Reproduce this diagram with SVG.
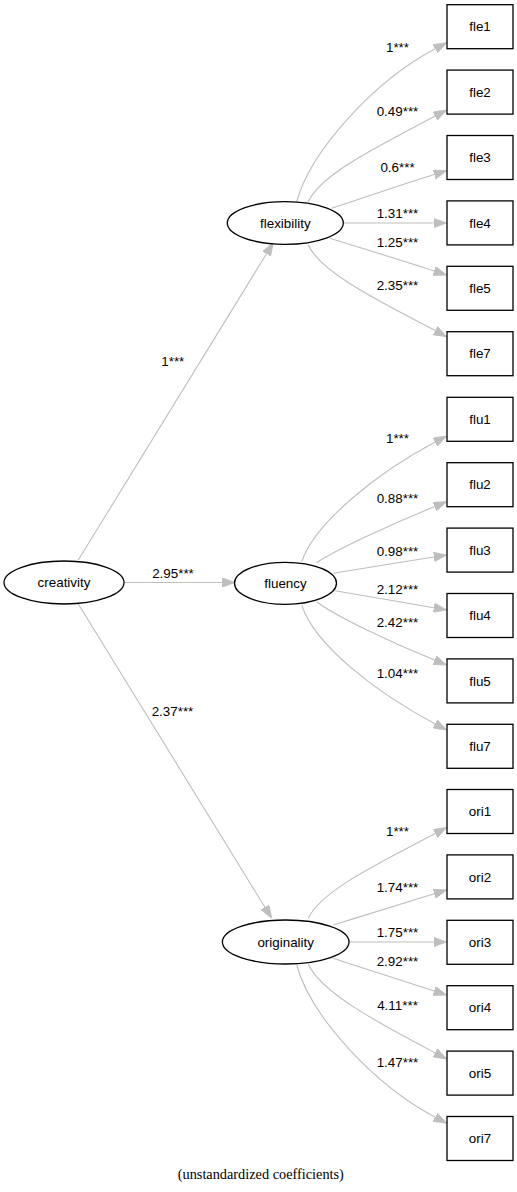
<svg xmlns="http://www.w3.org/2000/svg" width="517" height="1192" viewBox="0 0 517 1192">
<style>
.n{fill:#fff;stroke:#000;stroke-width:1.3}
.t{font-family:"Liberation Sans",Arial,Helvetica,sans-serif;font-size:13.4px;fill:#000;text-anchor:middle}
.e{fill:none;stroke:#BEBEBE;stroke-width:1.1;marker-end:url(#ah)}
.f{font-family:"Liberation Serif","Times New Roman",serif;font-size:14.3px;fill:#000;text-anchor:middle}
</style>
<defs>
<marker id="ah" viewBox="0 0 13 9.4" refX="0" refY="4.7" markerWidth="13" markerHeight="9.4" markerUnits="userSpaceOnUse" orient="auto">
<path d="M0,0 L13,4.7 L0,9.4 z" fill="#BEBEBE" stroke="#BEBEBE" stroke-width="0.8"/>
</marker>
</defs>
<rect width="517" height="1192" fill="#fff"/>
<g id="connectors">
<path class="e" d="M78.3,560 L266.5,253.8"/>
<path class="e" d="M124,582.5 L222,582.5"/>
<path class="e" d="M78.3,604 L264.9,907.2"/>
<path class="e" d="M296.7,201.7 C310.5,151.2 373.4,81.6 435.2,48.8"/>
<path class="e" d="M308.3,201.7 C321,173.5 382.2,144.2 435.2,116.1"/>
<path class="e" d="M331.7,208.3 C368,196.5 400.8,184.7 434.3,174.5"/>
<path class="e" d="M343.3,223 L433.7,223"/>
<path class="e" d="M330,238.3 C366,249.5 401,260.2 434.3,271"/>
<path class="e" d="M308.3,245 C321,273.2 382.2,302.5 435.2,330.6"/>
<path class="e" d="M301.7,561.7 C315,522.2 377.8,472.6 435.2,442.1"/>
<path class="e" d="M316.7,562.7 C335,550 392.9,523.5 434.6,506.6"/>
<path class="e" d="M333.3,573.3 C370,567.5 400,562.3 433.9,557"/>
<path class="e" d="M335,590.7 C370,596.7 400,601.7 433.9,607.7"/>
<path class="e" d="M316.7,601.7 C335,616 392.9,643.2 434.6,660.1"/>
<path class="e" d="M301.7,605 C315,646 377.8,693.4 435.2,723.9"/>
<path class="e" d="M308.3,918.3 C321,890.3 382.2,861.7 435.2,833.6"/>
<path class="e" d="M333.3,925 C367,914.5 400.8,904 434.3,893.8"/>
<path class="e" d="M349,942 L433.7,942"/>
<path class="e" d="M333.3,958.3 C367,969.5 401,980.2 434.3,991"/>
<path class="e" d="M308.3,964 C321,993.3 382.2,1024.8 435.2,1052.9"/>
<path class="e" d="M296.7,965 C310.5,1015.7 373.4,1084.4 435.2,1117.2"/>
</g>
<g id="edge-labels">
<text class="t" x="172.8" y="365.5">1***</text>
<text class="t" x="173" y="578">2.95***</text>
<text class="t" x="172.5" y="715.5">2.37***</text>
<text class="t" x="397.5" y="51.8">1***</text>
<text class="t" x="397.5" y="115.5">0.49***</text>
<text class="t" x="397.5" y="171.5">0.6***</text>
<text class="t" x="397.5" y="218">1.31***</text>
<text class="t" x="397.5" y="246.5">1.25***</text>
<text class="t" x="397.5" y="289.8">2.35***</text>
<text class="t" x="397.5" y="443">1***</text>
<text class="t" x="397.5" y="503">0.88***</text>
<text class="t" x="397.5" y="555.5">0.98***</text>
<text class="t" x="397.5" y="593.5">2.12***</text>
<text class="t" x="397.5" y="627">2.42***</text>
<text class="t" x="397.5" y="678">1.04***</text>
<text class="t" x="397.5" y="835.8">1***</text>
<text class="t" x="397.5" y="891.5">1.74***</text>
<text class="t" x="397.5" y="936.5">1.75***</text>
<text class="t" x="397.5" y="965.8">2.92***</text>
<text class="t" x="397.5" y="1009.8">4.11***</text>
<text class="t" x="397.5" y="1066.5">1.47***</text>
</g>
<g id="creativity"><ellipse class="n" cx="64" cy="582.5" rx="60" ry="21.5"/><text class="t" x="64" y="587">creativity</text></g>
<g id="flexibility"><ellipse class="n" cx="285.3" cy="223" rx="58" ry="21.3"/><text class="t" x="285.3" y="227.5">flexibility</text></g>
<g id="fluency"><ellipse class="n" cx="285.5" cy="583.3" rx="51" ry="21"/><text class="t" x="285.5" y="587.8">fluency</text></g>
<g id="originality"><ellipse class="n" cx="285.7" cy="942" rx="63.3" ry="22"/><text class="t" x="285.7" y="946.5">originality</text></g>
<g id="fle1"><rect class="n" x="447" y="4.7" width="66" height="44"/><text class="t" x="480" y="31.4">fle1</text></g>
<g id="fle2"><rect class="n" x="447" y="70.1" width="66" height="44"/><text class="t" x="480" y="96.8">fle2</text></g>
<g id="fle3"><rect class="n" x="447" y="135.5" width="66" height="44"/><text class="t" x="480" y="162.2">fle3</text></g>
<g id="fle4"><rect class="n" x="447" y="200.9" width="66" height="44"/><text class="t" x="480" y="227.6">fle4</text></g>
<g id="fle5"><rect class="n" x="447" y="266.3" width="66" height="44"/><text class="t" x="480" y="293">fle5</text></g>
<g id="fle7"><rect class="n" x="447" y="331.7" width="66" height="44"/><text class="t" x="480" y="358.4">fle7</text></g>
<g id="flu1"><rect class="n" x="447" y="397.3" width="66" height="44"/><text class="t" x="480" y="424">flu1</text></g>
<g id="flu2"><rect class="n" x="447" y="462.7" width="66" height="44"/><text class="t" x="480" y="489.4">flu2</text></g>
<g id="flu3"><rect class="n" x="447" y="528.1" width="66" height="44"/><text class="t" x="480" y="554.8">flu3</text></g>
<g id="flu4"><rect class="n" x="447" y="593.5" width="66" height="44"/><text class="t" x="480" y="620.2">flu4</text></g>
<g id="flu5"><rect class="n" x="447" y="658.9" width="66" height="44"/><text class="t" x="480" y="685.6">flu5</text></g>
<g id="flu7"><rect class="n" x="447" y="724.3" width="66" height="44"/><text class="t" x="480" y="751">flu7</text></g>
<g id="ori1"><rect class="n" x="447" y="789.5" width="66" height="44"/><text class="t" x="480" y="816.2">ori1</text></g>
<g id="ori2"><rect class="n" x="447" y="854.9" width="66" height="44"/><text class="t" x="480" y="881.6">ori2</text></g>
<g id="ori3"><rect class="n" x="447" y="920.3" width="66" height="44"/><text class="t" x="480" y="947">ori3</text></g>
<g id="ori4"><rect class="n" x="447" y="985.7" width="66" height="44"/><text class="t" x="480" y="1012.4">ori4</text></g>
<g id="ori5"><rect class="n" x="447" y="1051.1" width="66" height="44"/><text class="t" x="480" y="1077.8">ori5</text></g>
<g id="ori7"><rect class="n" x="447" y="1116.5" width="66" height="44"/><text class="t" x="480" y="1143.2">ori7</text></g>
<text class="f" x="260.8" y="1178.5">(unstandardized coefficients)</text>
</svg>
